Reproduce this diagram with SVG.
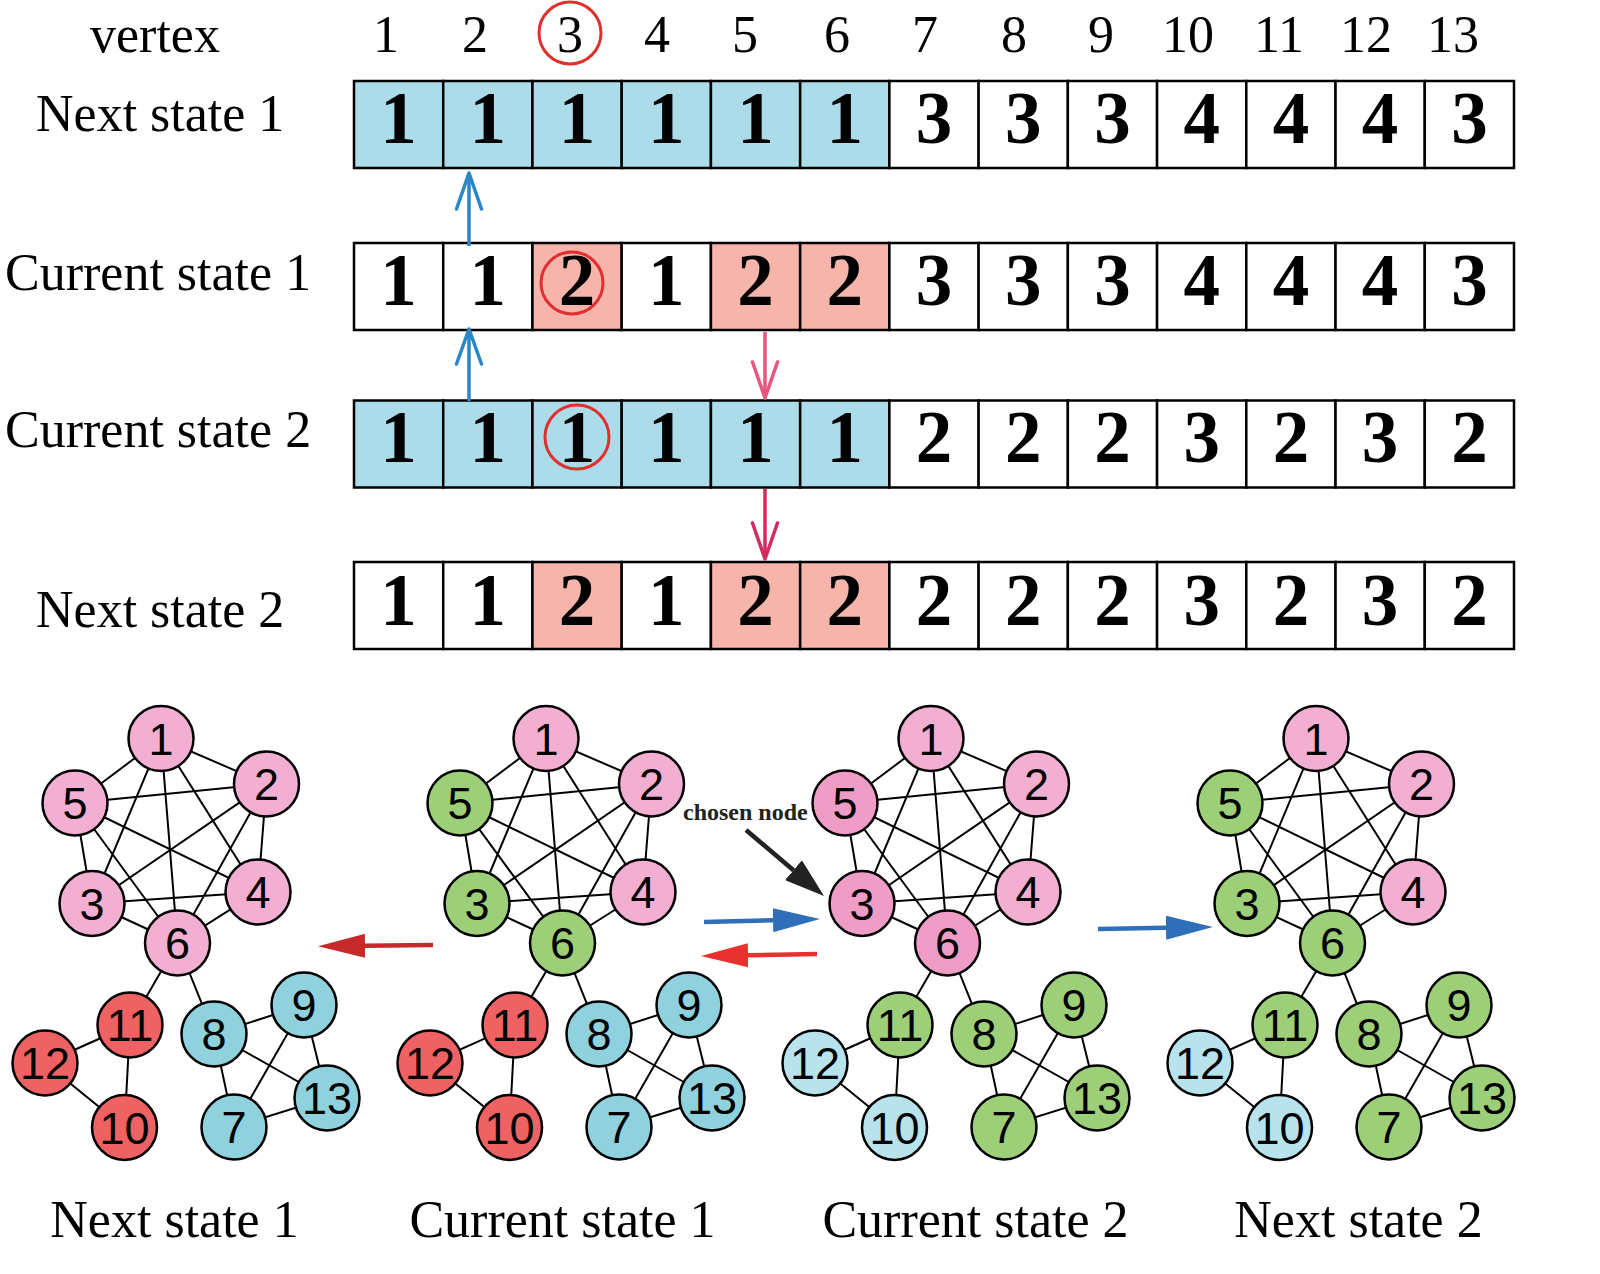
<svg xmlns="http://www.w3.org/2000/svg" xmlns:xlink="http://www.w3.org/1999/xlink" width="1600" height="1274" viewBox="0 0 1600 1274">
<style>
.lbl{font-family:"Liberation Serif","Times New Roman",serif;font-size:52px;fill:#000}
.hd{font-family:"Liberation Serif","Times New Roman",serif;font-size:52px;fill:#000;text-anchor:middle}
.dg{font-family:"Liberation Serif","Times New Roman",serif;font-size:73px;font-weight:bold;fill:#000;text-anchor:middle}
.cell{stroke:#000;stroke-width:2.5}
.w{fill:#fff}.b{fill:#acdce9}.s{fill:#f6b4aa}
.mark{fill:none;stroke:#e0302e;stroke-width:3}
.node circle{stroke:#000;stroke-width:2.5}
.node text{font-family:"Liberation Sans",Arial,sans-serif;font-size:45px;fill:#000;text-anchor:middle}
.pk circle{fill:#f3afd2}.pd circle{fill:#ef9dc7}.gr circle{fill:#9dcf79}.rd circle{fill:#ef6263}.cy circle{fill:#8fd1dd}.lb circle{fill:#b8e2ec}
.edge{fill:none;stroke:#000;stroke-width:2}
.open{fill:none;stroke-width:3.5;stroke-linecap:round;stroke-linejoin:round}
.cap{font-family:"Liberation Serif","Times New Roman",serif;font-size:52px;fill:#000;text-anchor:middle}
.chosen{font-family:"Liberation Serif","Times New Roman",serif;font-size:24px;font-weight:bold;fill:#222}
</style>
<defs>
<path id="edgeset" class="edge" d="M161,738.5L266.5,784M161,738.5L92,903.5M161,738.5L258,892M161,738.5L75,803M161,738.5L177.5,943M266.5,784L92,903.5M266.5,784L258,892M266.5,784L75,803M266.5,784L177.5,943M92,903.5L258,892M92,903.5L75,803M92,903.5L177.5,943M258,892L75,803M258,892L177.5,943M75,803L177.5,943M177.5,943L130,1025M177.5,943L214,1034M130,1025L45,1063M130,1025L124.5,1127.5M45,1063L124.5,1127.5M214,1034L304,1005M214,1034L234,1127M214,1034L327,1098M304,1005L234,1127M304,1005L327,1098M234,1127L327,1098"/>
<marker id="hRedDark" viewBox="0 0 47 24" refX="0" refY="12" markerWidth="47" markerHeight="24" markerUnits="userSpaceOnUse" orient="auto"><path d="M0,0L47,12L0,24z" fill="#c62a2b"/></marker>
<marker id="hRed" viewBox="0 0 47 24" refX="0" refY="12" markerWidth="47" markerHeight="24" markerUnits="userSpaceOnUse" orient="auto"><path d="M0,0L47,12L0,24z" fill="#e8312e"/></marker>
<marker id="hBlue" viewBox="0 0 47 24" refX="0" refY="12" markerWidth="47" markerHeight="24" markerUnits="userSpaceOnUse" orient="auto"><path d="M0,0L47,12L0,24z" fill="#2f6fb9"/></marker>
<marker id="hBlack" viewBox="0 0 40 26" refX="0" refY="13" markerWidth="40" markerHeight="26" markerUnits="userSpaceOnUse" orient="auto"><path d="M0,0L40,13L0,26z" fill="#222"/></marker>
</defs>
<rect x="0" y="0" width="1600" height="1274" fill="#fff"/>

<!-- header -->
<g id="header">
<text class="lbl" x="90" y="52">vertex</text>
<text class="hd" x="386" y="52">1</text>
<text class="hd" x="475" y="52">2</text>
<text class="hd" x="570" y="52">3</text>
<text class="hd" x="657" y="52">4</text>
<text class="hd" x="745" y="52">5</text>
<text class="hd" x="837" y="52">6</text>
<text class="hd" x="925" y="52">7</text>
<text class="hd" x="1014" y="52">8</text>
<text class="hd" x="1101" y="52">9</text>
<text class="hd" x="1188" y="52">10</text>
<text class="hd" x="1279" y="52">11</text>
<text class="hd" x="1366" y="52">12</text>
<text class="hd" x="1453" y="52">13</text>
<circle class="mark" cx="570" cy="33" r="31"/>
</g>

<!-- row labels -->
<g id="row-labels">
<text class="lbl" x="36" y="131">Next state 1</text>
<text class="lbl" x="5" y="290">Current state 1</text>
<text class="lbl" x="5" y="447">Current state 2</text>
<text class="lbl" x="36" y="627">Next state 2</text>
</g>

<!-- row 1: Next state 1 -->
<g id="row-next1">
<rect class="cell b" x="354" y="81" width="89.23" height="87"/>
<rect class="cell b" x="443.23" y="81" width="89.23" height="87"/>
<rect class="cell b" x="532.46" y="81" width="89.23" height="87"/>
<rect class="cell b" x="621.69" y="81" width="89.23" height="87"/>
<rect class="cell b" x="710.92" y="81" width="89.23" height="87"/>
<rect class="cell b" x="800.15" y="81" width="89.23" height="87"/>
<rect class="cell w" x="889.38" y="81" width="89.23" height="87"/>
<rect class="cell w" x="978.61" y="81" width="89.23" height="87"/>
<rect class="cell w" x="1067.84" y="81" width="89.23" height="87"/>
<rect class="cell w" x="1157.07" y="81" width="89.23" height="87"/>
<rect class="cell w" x="1246.3" y="81" width="89.23" height="87"/>
<rect class="cell w" x="1335.53" y="81" width="89.23" height="87"/>
<rect class="cell w" x="1424.77" y="81" width="89.23" height="87"/>
<text class="dg" x="398.6" y="143">1</text>
<text class="dg" x="487.8" y="143">1</text>
<text class="dg" x="577.1" y="143">1</text>
<text class="dg" x="666.3" y="143">1</text>
<text class="dg" x="755.5" y="143">1</text>
<text class="dg" x="844.8" y="143">1</text>
<text class="dg" x="934" y="143">3</text>
<text class="dg" x="1023.2" y="143">3</text>
<text class="dg" x="1112.5" y="143">3</text>
<text class="dg" x="1201.7" y="143">4</text>
<text class="dg" x="1290.9" y="143">4</text>
<text class="dg" x="1380.1" y="143">4</text>
<text class="dg" x="1469.4" y="143">3</text>
</g>

<!-- row 2: Current state 1 -->
<g id="row-current1">
<rect class="cell w" x="354" y="243" width="89.23" height="87"/>
<rect class="cell w" x="443.23" y="243" width="89.23" height="87"/>
<rect class="cell s" x="532.46" y="243" width="89.23" height="87"/>
<rect class="cell w" x="621.69" y="243" width="89.23" height="87"/>
<rect class="cell s" x="710.92" y="243" width="89.23" height="87"/>
<rect class="cell s" x="800.15" y="243" width="89.23" height="87"/>
<rect class="cell w" x="889.38" y="243" width="89.23" height="87"/>
<rect class="cell w" x="978.61" y="243" width="89.23" height="87"/>
<rect class="cell w" x="1067.84" y="243" width="89.23" height="87"/>
<rect class="cell w" x="1157.07" y="243" width="89.23" height="87"/>
<rect class="cell w" x="1246.3" y="243" width="89.23" height="87"/>
<rect class="cell w" x="1335.53" y="243" width="89.23" height="87"/>
<rect class="cell w" x="1424.77" y="243" width="89.23" height="87"/>
<text class="dg" x="398.6" y="305">1</text>
<text class="dg" x="487.8" y="305">1</text>
<text class="dg" x="577.1" y="305">2</text>
<text class="dg" x="666.3" y="305">1</text>
<text class="dg" x="755.5" y="305">2</text>
<text class="dg" x="844.8" y="305">2</text>
<text class="dg" x="934" y="305">3</text>
<text class="dg" x="1023.2" y="305">3</text>
<text class="dg" x="1112.5" y="305">3</text>
<text class="dg" x="1201.7" y="305">4</text>
<text class="dg" x="1290.9" y="305">4</text>
<text class="dg" x="1380.1" y="305">4</text>
<text class="dg" x="1469.4" y="305">3</text>
<circle class="mark" cx="572" cy="283" r="31"/>
</g>

<!-- row 3: Current state 2 -->
<g id="row-current2">
<rect class="cell b" x="354" y="400.5" width="89.23" height="87"/>
<rect class="cell b" x="443.23" y="400.5" width="89.23" height="87"/>
<rect class="cell b" x="532.46" y="400.5" width="89.23" height="87"/>
<rect class="cell b" x="621.69" y="400.5" width="89.23" height="87"/>
<rect class="cell b" x="710.92" y="400.5" width="89.23" height="87"/>
<rect class="cell b" x="800.15" y="400.5" width="89.23" height="87"/>
<rect class="cell w" x="889.38" y="400.5" width="89.23" height="87"/>
<rect class="cell w" x="978.61" y="400.5" width="89.23" height="87"/>
<rect class="cell w" x="1067.84" y="400.5" width="89.23" height="87"/>
<rect class="cell w" x="1157.07" y="400.5" width="89.23" height="87"/>
<rect class="cell w" x="1246.3" y="400.5" width="89.23" height="87"/>
<rect class="cell w" x="1335.53" y="400.5" width="89.23" height="87"/>
<rect class="cell w" x="1424.77" y="400.5" width="89.23" height="87"/>
<text class="dg" x="398.6" y="462">1</text>
<text class="dg" x="487.8" y="462">1</text>
<text class="dg" x="577.1" y="462">1</text>
<text class="dg" x="666.3" y="462">1</text>
<text class="dg" x="755.5" y="462">1</text>
<text class="dg" x="844.8" y="462">1</text>
<text class="dg" x="934" y="462">2</text>
<text class="dg" x="1023.2" y="462">2</text>
<text class="dg" x="1112.5" y="462">2</text>
<text class="dg" x="1201.7" y="462">3</text>
<text class="dg" x="1290.9" y="462">2</text>
<text class="dg" x="1380.1" y="462">3</text>
<text class="dg" x="1469.4" y="462">2</text>
<circle class="mark" cx="577" cy="437" r="32"/>
</g>

<!-- row 4: Next state 2 -->
<g id="row-next2">
<rect class="cell w" x="354" y="562" width="89.23" height="87"/>
<rect class="cell w" x="443.23" y="562" width="89.23" height="87"/>
<rect class="cell s" x="532.46" y="562" width="89.23" height="87"/>
<rect class="cell w" x="621.69" y="562" width="89.23" height="87"/>
<rect class="cell s" x="710.92" y="562" width="89.23" height="87"/>
<rect class="cell s" x="800.15" y="562" width="89.23" height="87"/>
<rect class="cell w" x="889.38" y="562" width="89.23" height="87"/>
<rect class="cell w" x="978.61" y="562" width="89.23" height="87"/>
<rect class="cell w" x="1067.84" y="562" width="89.23" height="87"/>
<rect class="cell w" x="1157.07" y="562" width="89.23" height="87"/>
<rect class="cell w" x="1246.3" y="562" width="89.23" height="87"/>
<rect class="cell w" x="1335.53" y="562" width="89.23" height="87"/>
<rect class="cell w" x="1424.77" y="562" width="89.23" height="87"/>
<text class="dg" x="398.6" y="625">1</text>
<text class="dg" x="487.8" y="625">1</text>
<text class="dg" x="577.1" y="625">2</text>
<text class="dg" x="666.3" y="625">1</text>
<text class="dg" x="755.5" y="625">2</text>
<text class="dg" x="844.8" y="625">2</text>
<text class="dg" x="934" y="625">2</text>
<text class="dg" x="1023.2" y="625">2</text>
<text class="dg" x="1112.5" y="625">2</text>
<text class="dg" x="1201.7" y="625">3</text>
<text class="dg" x="1290.9" y="625">2</text>
<text class="dg" x="1380.1" y="625">3</text>
<text class="dg" x="1469.4" y="625">2</text>
</g>

<!-- connectors -->
<g id="connectors">
<line x1="469" y1="246" x2="469" y2="174" stroke="#2b86c6" stroke-width="3.5"/>
<polyline class="open" stroke="#2b86c6" points="456.5,209 469,173 481.5,209"/>
<line x1="469" y1="401" x2="469" y2="331" stroke="#2b86c6" stroke-width="3.5"/>
<polyline class="open" stroke="#2b86c6" points="456.5,364 469,329 481.5,364"/>
<line x1="765" y1="332" x2="765" y2="397" stroke="#e8557f" stroke-width="3.5"/>
<polyline class="open" stroke="#e8557f" points="752.5,362 765,398 777.5,362"/>
<line x1="765" y1="489" x2="765" y2="558" stroke="#d42b5e" stroke-width="3.5"/>
<polyline class="open" stroke="#d42b5e" points="752.5,523 765,559 777.5,523"/>

<use xlink:href="#edgeset" href="#edgeset"/>
<use xlink:href="#edgeset" href="#edgeset" transform="translate(385,0)"/>
<use xlink:href="#edgeset" href="#edgeset" transform="translate(770,0)"/>
<use xlink:href="#edgeset" href="#edgeset" transform="translate(1155,0)"/>

<line x1="433" y1="945" x2="365" y2="945.8" stroke="#c62a2b" stroke-width="4.5" marker-end="url(#hRedDark)"/>
<line x1="704" y1="922" x2="773" y2="920.2" stroke="#2f6fb9" stroke-width="4.5" marker-end="url(#hBlue)"/>
<line x1="817" y1="954" x2="748" y2="955.2" stroke="#e8312e" stroke-width="4.5" marker-end="url(#hRed)"/>
<line x1="1098" y1="929" x2="1166" y2="927.8" stroke="#2f6fb9" stroke-width="4.5" marker-end="url(#hBlue)"/>
<line x1="746" y1="830" x2="793.5" y2="870.2" stroke="#222" stroke-width="4.5" marker-end="url(#hBlack)"/>
</g>

<text class="chosen" x="683" y="820">chosen node</text>

<!-- graph 1: Next state 1 -->
<g id="graph1">
<g id="g1-n1" class="node pk"><circle cx="161" cy="738.5" r="32.5"/><text x="161" y="754.5">1</text></g>
<g id="g1-n2" class="node pk"><circle cx="266.5" cy="784" r="32.5"/><text x="266.5" y="800">2</text></g>
<g id="g1-n3" class="node pk"><circle cx="92" cy="903.5" r="32.5"/><text x="92" y="919.5">3</text></g>
<g id="g1-n4" class="node pk"><circle cx="258" cy="892" r="32.5"/><text x="258" y="908">4</text></g>
<g id="g1-n5" class="node pk"><circle cx="75" cy="803" r="32.5"/><text x="75" y="819">5</text></g>
<g id="g1-n6" class="node pk"><circle cx="177.5" cy="943" r="32.5"/><text x="177.5" y="959">6</text></g>
<g id="g1-n7" class="node cy"><circle cx="234" cy="1127" r="32.5"/><text x="234" y="1143">7</text></g>
<g id="g1-n8" class="node cy"><circle cx="214" cy="1034" r="32.5"/><text x="214" y="1050">8</text></g>
<g id="g1-n9" class="node cy"><circle cx="304" cy="1005" r="32.5"/><text x="304" y="1021">9</text></g>
<g id="g1-n10" class="node rd"><circle cx="124.5" cy="1127.5" r="32.5"/><text x="124.5" y="1143.5">10</text></g>
<g id="g1-n11" class="node rd"><circle cx="130" cy="1025" r="32.5"/><text x="130" y="1041">11</text></g>
<g id="g1-n12" class="node rd"><circle cx="45" cy="1063" r="32.5"/><text x="45" y="1079">12</text></g>
<g id="g1-n13" class="node cy"><circle cx="327" cy="1098" r="32.5"/><text x="327" y="1114">13</text></g>
</g>

<!-- graph 2: Current state 1 -->
<g id="graph2" transform="translate(385,0)">
<g id="g2-n1" class="node pk"><circle cx="161" cy="738.5" r="32.5"/><text x="161" y="754.5">1</text></g>
<g id="g2-n2" class="node pk"><circle cx="266.5" cy="784" r="32.5"/><text x="266.5" y="800">2</text></g>
<g id="g2-n3" class="node gr"><circle cx="92" cy="903.5" r="32.5"/><text x="92" y="919.5">3</text></g>
<g id="g2-n4" class="node pk"><circle cx="258" cy="892" r="32.5"/><text x="258" y="908">4</text></g>
<g id="g2-n5" class="node gr"><circle cx="75" cy="803" r="32.5"/><text x="75" y="819">5</text></g>
<g id="g2-n6" class="node gr"><circle cx="177.5" cy="943" r="32.5"/><text x="177.5" y="959">6</text></g>
<g id="g2-n7" class="node cy"><circle cx="234" cy="1127" r="32.5"/><text x="234" y="1143">7</text></g>
<g id="g2-n8" class="node cy"><circle cx="214" cy="1034" r="32.5"/><text x="214" y="1050">8</text></g>
<g id="g2-n9" class="node cy"><circle cx="304" cy="1005" r="32.5"/><text x="304" y="1021">9</text></g>
<g id="g2-n10" class="node rd"><circle cx="124.5" cy="1127.5" r="32.5"/><text x="124.5" y="1143.5">10</text></g>
<g id="g2-n11" class="node rd"><circle cx="130" cy="1025" r="32.5"/><text x="130" y="1041">11</text></g>
<g id="g2-n12" class="node rd"><circle cx="45" cy="1063" r="32.5"/><text x="45" y="1079">12</text></g>
<g id="g2-n13" class="node cy"><circle cx="327" cy="1098" r="32.5"/><text x="327" y="1114">13</text></g>
</g>

<!-- graph 3: Current state 2 -->
<g id="graph3" transform="translate(770,0)">
<g id="g3-n1" class="node pk"><circle cx="161" cy="738.5" r="32.5"/><text x="161" y="754.5">1</text></g>
<g id="g3-n2" class="node pk"><circle cx="266.5" cy="784" r="32.5"/><text x="266.5" y="800">2</text></g>
<g id="g3-n3" class="node pd"><circle cx="92" cy="903.5" r="32.5"/><text x="92" y="919.5">3</text></g>
<g id="g3-n4" class="node pk"><circle cx="258" cy="892" r="32.5"/><text x="258" y="908">4</text></g>
<g id="g3-n5" class="node pd"><circle cx="75" cy="803" r="32.5"/><text x="75" y="819">5</text></g>
<g id="g3-n6" class="node pd"><circle cx="177.5" cy="943" r="32.5"/><text x="177.5" y="959">6</text></g>
<g id="g3-n7" class="node gr"><circle cx="234" cy="1127" r="32.5"/><text x="234" y="1143">7</text></g>
<g id="g3-n8" class="node gr"><circle cx="214" cy="1034" r="32.5"/><text x="214" y="1050">8</text></g>
<g id="g3-n9" class="node gr"><circle cx="304" cy="1005" r="32.5"/><text x="304" y="1021">9</text></g>
<g id="g3-n10" class="node lb"><circle cx="124.5" cy="1127.5" r="32.5"/><text x="124.5" y="1143.5">10</text></g>
<g id="g3-n11" class="node gr"><circle cx="130" cy="1025" r="32.5"/><text x="130" y="1041">11</text></g>
<g id="g3-n12" class="node lb"><circle cx="45" cy="1063" r="32.5"/><text x="45" y="1079">12</text></g>
<g id="g3-n13" class="node gr"><circle cx="327" cy="1098" r="32.5"/><text x="327" y="1114">13</text></g>
</g>

<!-- graph 4: Next state 2 -->
<g id="graph4" transform="translate(1155,0)">
<g id="g4-n1" class="node pk"><circle cx="161" cy="738.5" r="32.5"/><text x="161" y="754.5">1</text></g>
<g id="g4-n2" class="node pk"><circle cx="266.5" cy="784" r="32.5"/><text x="266.5" y="800">2</text></g>
<g id="g4-n3" class="node gr"><circle cx="92" cy="903.5" r="32.5"/><text x="92" y="919.5">3</text></g>
<g id="g4-n4" class="node pk"><circle cx="258" cy="892" r="32.5"/><text x="258" y="908">4</text></g>
<g id="g4-n5" class="node gr"><circle cx="75" cy="803" r="32.5"/><text x="75" y="819">5</text></g>
<g id="g4-n6" class="node gr"><circle cx="177.5" cy="943" r="32.5"/><text x="177.5" y="959">6</text></g>
<g id="g4-n7" class="node gr"><circle cx="234" cy="1127" r="32.5"/><text x="234" y="1143">7</text></g>
<g id="g4-n8" class="node gr"><circle cx="214" cy="1034" r="32.5"/><text x="214" y="1050">8</text></g>
<g id="g4-n9" class="node gr"><circle cx="304" cy="1005" r="32.5"/><text x="304" y="1021">9</text></g>
<g id="g4-n10" class="node lb"><circle cx="124.5" cy="1127.5" r="32.5"/><text x="124.5" y="1143.5">10</text></g>
<g id="g4-n11" class="node gr"><circle cx="130" cy="1025" r="32.5"/><text x="130" y="1041">11</text></g>
<g id="g4-n12" class="node lb"><circle cx="45" cy="1063" r="32.5"/><text x="45" y="1079">12</text></g>
<g id="g4-n13" class="node gr"><circle cx="327" cy="1098" r="32.5"/><text x="327" y="1114">13</text></g>
</g>

<!-- captions -->
<g id="captions">
<text class="cap" x="174.5" y="1237">Next state 1</text>
<text class="cap" x="562.5" y="1237">Current state 1</text>
<text class="cap" x="975.5" y="1237">Current state 2</text>
<text class="cap" x="1358.5" y="1237">Next state 2</text>
</g>
</svg>
